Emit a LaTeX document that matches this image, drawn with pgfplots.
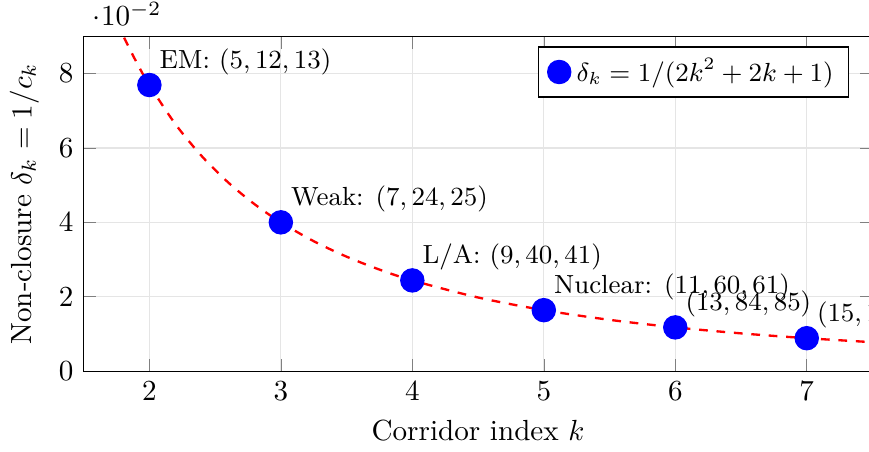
\documentclass[border=0pt]{standalone}
\usepackage{pgfplots}
\pgfplotsset{compat=1.18}

\begin{document}
\begin{tikzpicture}
\begin{axis}[
  name=ax,
  scale only axis,
  width=271pt, height=115pt,
  xmin=1.5, xmax=7.5,
  ymin=0, ymax=0.09,
  xtick={2,3,4,5,6,7},
  ytick={0,0.02,0.04,0.06,0.08},
  grid=major, grid style={gray!20},
  xlabel={Corridor index $k$},
  ylabel={Non-closure $\delta_k = 1/c_k$},
  legend style={at={(0.97,0.97)}, anchor=north east, font=\small},
  legend cell align=left,
]
% curve
\addplot[red, dashed, thick, smooth, forget plot] coordinates {
  (1.7,0.09823) (1.8,0.09025) (1.9,0.08319) (2.0,0.07692)
  (2.2,0.06631) (2.4,0.05774) (2.6,0.05071) (2.8,0.04488)
  (3.0,0.04000) (3.25,0.03493) (3.5,0.03077) (3.75,0.02730)
  (4.0,0.02439) (4.5,0.01980) (5.0,0.01639) (5.5,0.01379)
  (6.0,0.01176) (6.5,0.01015) (7.0,0.00885) (7.5,0.00778)
};
% corridor points
\addplot[only marks, mark=*, mark size=4pt, draw=blue, fill=blue,
  point meta=explicit symbolic, nodes near coords,
  every node near coord/.append style={anchor=south west, font=\small, text=black}]
  coordinates {
  (2,0.07692) [EM: $(5,12,13)$]
  (3,0.04000) [Weak: $(7,24,25)$]
  (4,0.02439) [L/A: $(9,40,41)$]
  (5,0.01639) [Nuclear: $(11,60,61)$]
  (6,0.01176) [$(13,84,85)$]
  (7,0.00885) [$(15,112,113)$]
};
\legend{$\delta_k = 1/(2k^2+2k+1)$}
\end{axis}
\coordinate (sw) at (current bounding box.south west);
\coordinate (ne) at (current bounding box.north east);
\pgfresetboundingbox
\path (sw) rectangle ([xshift=-1.2pt,yshift=0.7pt]ax.north east |- ne);
\end{tikzpicture}
\end{document}
